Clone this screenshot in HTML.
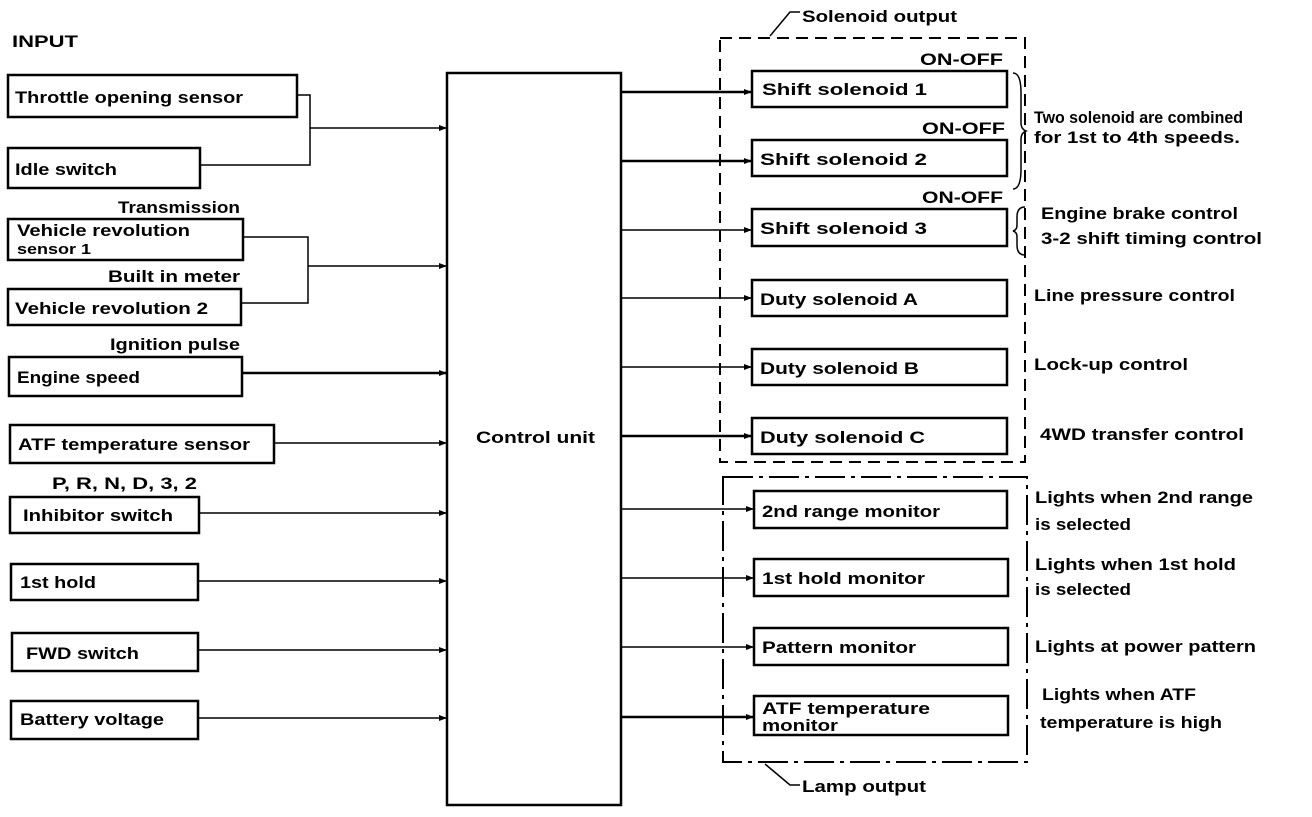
<!DOCTYPE html>
<html><head><meta charset="utf-8"><style>
html,body{margin:0;padding:0;background:#fff}
svg text{font-family:"Liberation Sans",sans-serif;font-size:17px;font-weight:bold;fill:#000}
</style></head><body>
<svg width="1312" height="812" viewBox="0 0 1312 812" xmlns="http://www.w3.org/2000/svg">
<defs><marker id="a" markerWidth="8" markerHeight="6" refX="8" refY="3" orient="auto" markerUnits="userSpaceOnUse"><path d="M0,0L8,3L0,6z" fill="#000"/></marker></defs>
<g fill="none" stroke="#000" stroke-width="2.5">
<rect x="8" y="75" width="289" height="42"/>
<rect x="8" y="148" width="192" height="40"/>
<rect x="8" y="219" width="235" height="41"/>
<rect x="8" y="289" width="233" height="36"/>
<rect x="9" y="357" width="233" height="39"/>
<rect x="10" y="425" width="264" height="38"/>
<rect x="10" y="497" width="189" height="36"/>
<rect x="11" y="564" width="187" height="36"/>
<rect x="12" y="633" width="186" height="38"/>
<rect x="11" y="701" width="187" height="38"/>
<rect x="447" y="73" width="174" height="732"/>
<rect x="752" y="71" width="255" height="36"/>
<rect x="752" y="140" width="255" height="36"/>
<rect x="752" y="209" width="255" height="37"/>
<rect x="752" y="280" width="255" height="36"/>
<rect x="752" y="349" width="255" height="36"/>
<rect x="752" y="418" width="255" height="36"/>
<rect x="754" y="491" width="253" height="37"/>
<rect x="754" y="559" width="254" height="37"/>
<rect x="754" y="628" width="254" height="37"/>
<rect x="754" y="696" width="254" height="39"/>
</g>
<g fill="none" stroke="#000" stroke-width="2" stroke-dasharray="12,7">
<rect x="720" y="38" width="305" height="424"/>
</g>
<g fill="none" stroke="#000" stroke-width="2" stroke-dasharray="30,6,4,6">
<rect x="723" y="477" width="304" height="285"/>
</g>
<g fill="none" stroke="#000" stroke-width="1.5" marker-end="url(#a)">
<path d="M297,95H310V165H200M310,128H447"/>
<path d="M243,237H308V303H241M308,266H447"/>
<path d="M242,373H447" stroke-width="2.5"/>
<path d="M274,443H447"/>
<path d="M199,513H447"/>
<path d="M198,581H447"/>
<path d="M198,650H447"/>
<path d="M198,718H447"/>
<path d="M621,92H752" stroke-width="2.5"/>
<path d="M621,161H752" stroke-width="2.5"/>
<path d="M621,230H752"/>
<path d="M621,298H752"/>
<path d="M621,367H752"/>
<path d="M621,436H752" stroke-width="2.5"/>
<path d="M621,509H754"/>
<path d="M621,578H754"/>
<path d="M621,647H754"/>
<path d="M621,717H754" stroke-width="2.5"/>
</g>
<g fill="none" stroke="#000" stroke-width="1.5">
<path d="M770,36L790,12H800"/>
<path d="M765,764L790,785H800"/>
<path d="M1013,73q8,0 8,20v30q0,6 5,8q-5,2 -5,8v30q0,20 -8,20"/>
<path d="M1025,207q-8,0 -8,10v8q0,5 -4,6q4,1 4,6v8q0,10 8,10"/>
</g>
<g lengthAdjust="spacingAndGlyphs">
<text x="12" y="47" textLength="66" lengthAdjust="spacingAndGlyphs">INPUT</text>
<text x="15" y="103" textLength="228" lengthAdjust="spacingAndGlyphs">Throttle opening sensor</text>
<text x="15" y="175" textLength="102" lengthAdjust="spacingAndGlyphs">Idle switch</text>
<text x="118" y="213" textLength="122" lengthAdjust="spacingAndGlyphs">Transmission</text>
<text x="17" y="236" textLength="173" lengthAdjust="spacingAndGlyphs">Vehicle revolution</text>
<text x="17" y="254" textLength="74" lengthAdjust="spacingAndGlyphs" style="font-size:15px">sensor 1</text>
<text x="108" y="282" textLength="132" lengthAdjust="spacingAndGlyphs">Built in meter</text>
<text x="15" y="314" textLength="193" lengthAdjust="spacingAndGlyphs">Vehicle revolution 2</text>
<text x="110" y="350" textLength="130" lengthAdjust="spacingAndGlyphs">Ignition pulse</text>
<text x="17" y="383" textLength="123" lengthAdjust="spacingAndGlyphs">Engine speed</text>
<text x="18" y="450" textLength="232" lengthAdjust="spacingAndGlyphs">ATF temperature sensor</text>
<text x="52" y="489" textLength="145" lengthAdjust="spacingAndGlyphs">P, R, N, D, 3, 2</text>
<text x="23" y="521" textLength="150" lengthAdjust="spacingAndGlyphs">Inhibitor switch</text>
<text x="20" y="588" textLength="76" lengthAdjust="spacingAndGlyphs">1st hold</text>
<text x="26" y="659" textLength="113" lengthAdjust="spacingAndGlyphs">FWD switch</text>
<text x="20" y="725" textLength="144" lengthAdjust="spacingAndGlyphs">Battery voltage</text>
<text x="476" y="443" textLength="119" lengthAdjust="spacingAndGlyphs">Control unit</text>
<text x="802" y="22" textLength="155" lengthAdjust="spacingAndGlyphs">Solenoid output</text>
<text x="802" y="792" textLength="124" lengthAdjust="spacingAndGlyphs">Lamp output</text>
<text x="920" y="65" textLength="83" lengthAdjust="spacingAndGlyphs">ON-OFF</text>
<text x="922" y="134" textLength="83" lengthAdjust="spacingAndGlyphs">ON-OFF</text>
<text x="922" y="203" textLength="81" lengthAdjust="spacingAndGlyphs">ON-OFF</text>
<text x="762" y="95" textLength="165" lengthAdjust="spacingAndGlyphs">Shift solenoid 1</text>
<text x="760" y="165" textLength="167" lengthAdjust="spacingAndGlyphs">Shift solenoid 2</text>
<text x="760" y="234" textLength="167" lengthAdjust="spacingAndGlyphs">Shift solenoid 3</text>
<text x="760" y="305" textLength="158" lengthAdjust="spacingAndGlyphs">Duty solenoid A</text>
<text x="760" y="374" textLength="159" lengthAdjust="spacingAndGlyphs">Duty solenoid B</text>
<text x="760" y="443" textLength="165" lengthAdjust="spacingAndGlyphs">Duty solenoid C</text>
<text x="762" y="517" textLength="178" lengthAdjust="spacingAndGlyphs">2nd range monitor</text>
<text x="762" y="584" textLength="163" lengthAdjust="spacingAndGlyphs">1st hold monitor</text>
<text x="762" y="653" textLength="154" lengthAdjust="spacingAndGlyphs">Pattern monitor</text>
<text x="762" y="714" textLength="168" lengthAdjust="spacingAndGlyphs">ATF temperature</text>
<text x="762" y="731" textLength="76" lengthAdjust="spacingAndGlyphs">monitor</text>
<text x="1034" y="123" textLength="209" lengthAdjust="spacingAndGlyphs">Two solenoid are combined</text>
<text x="1034" y="143" textLength="206" lengthAdjust="spacingAndGlyphs">for 1st to 4th speeds.</text>
<text x="1041" y="219" textLength="197" lengthAdjust="spacingAndGlyphs">Engine brake control</text>
<text x="1041" y="244" textLength="221" lengthAdjust="spacingAndGlyphs">3-2 shift timing control</text>
<text x="1034" y="301" textLength="201" lengthAdjust="spacingAndGlyphs">Line pressure control</text>
<text x="1034" y="370" textLength="154" lengthAdjust="spacingAndGlyphs">Lock-up control</text>
<text x="1040" y="440" textLength="204" lengthAdjust="spacingAndGlyphs">4WD transfer control</text>
<text x="1035" y="503" textLength="218" lengthAdjust="spacingAndGlyphs">Lights when 2nd range</text>
<text x="1035" y="530" textLength="96" lengthAdjust="spacingAndGlyphs">is selected</text>
<text x="1035" y="570" textLength="201" lengthAdjust="spacingAndGlyphs">Lights when 1st hold</text>
<text x="1035" y="595" textLength="96" lengthAdjust="spacingAndGlyphs">is selected</text>
<text x="1035" y="652" textLength="221" lengthAdjust="spacingAndGlyphs">Lights at power pattern</text>
<text x="1042" y="700" textLength="154" lengthAdjust="spacingAndGlyphs">Lights when ATF</text>
<text x="1040" y="728" textLength="182" lengthAdjust="spacingAndGlyphs">temperature is high</text>
</g>
</svg>
</body></html>
